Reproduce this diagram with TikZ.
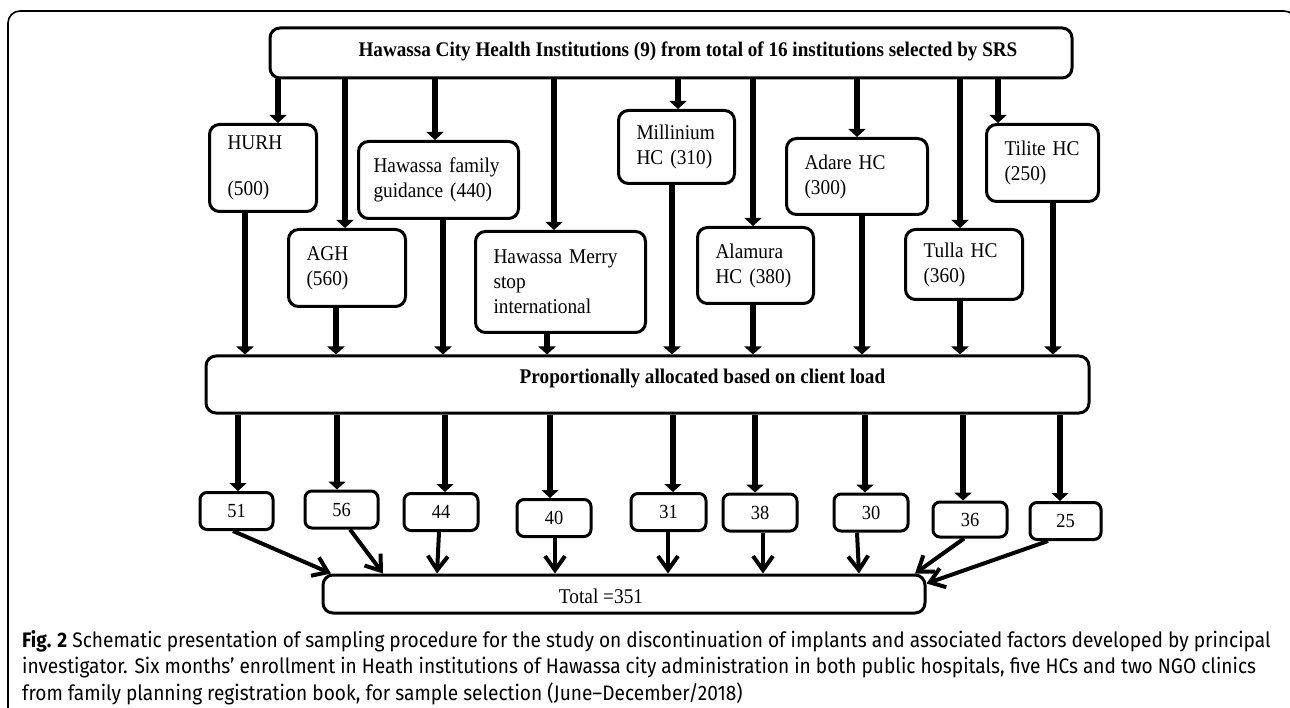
\documentclass[tikz,border=0pt]{standalone}
\usepackage{fontspec}
\setmainfont{Liberation Serif}[FakeStretch=0.92]
\newfontfamily\capfont{Fira Sans}[FakeStretch=0.91]
\usetikzlibrary{arrows.meta}
\tikzset{
  inst/.style = {draw, line width=3pt, rounded corners=10pt, anchor=north west, align=left, inner xsep=18pt, inner ysep=0pt, font=\fontsize{21}{25}\selectfont, execute at begin node={\hyphenpenalty=10000}},
  cnt/.style = {draw, line width=3pt, rounded corners=7pt, minimum height=37pt, inner sep=0pt, font=\fontsize{20}{24}\selectfont},
  bar/.style = {draw, line width=3pt, rounded corners=10pt, inner sep=0pt},
  feed/.style = {line width=6pt, -{Triangle[width=17pt, length=8pt]}},
  sum/.style = {line width=4pt, -{Straight Barb[width=20pt, length=14pt, line width=4pt]}}
}

\begin{document}
\begin{tikzpicture}[x=1pt, y=-1pt]
\clip (0,0) rectangle (1290,708);
\draw[line width=1.6pt, rounded corners=12pt] (8,720) -- (8,11) -- (1296,11) -- (1296,720);

\node[bar, minimum width=802pt, minimum height=50pt, label={[xshift=17pt, yshift=2pt, font=\fontsize{20.8}{24}\selectfont\bfseries]center:Hawassa City Health Institutions (9) from total of 16 institutions selected by SRS}] (top) at (671,53) {};

\node[inst, text width=71pt, minimum height=87pt] (hurh) at (208,123) {HURH\\[21pt](500)};
\node[inst, text width=81pt, minimum height=77pt] (agh) at (287,228) {AGH\\(560)};
\node[inst, inner xsep=15pt, text width=130pt, minimum height=77pt] (family) at (357,140) {Hawassa family\\guidance (440)};
\node[inst, text width=134pt, minimum height=101pt] (merry) at (474,230) {Hawassa Merry\\stop\\international};
\node[inst, text width=80pt, minimum height=73pt] (mill) at (617,109) {Millinium\\HC (310)};
\node[inst, text width=80pt, minimum height=76pt] (alam) at (696,226) {Alamura\\HC (380)};
\node[inst, text width=105pt, minimum height=76pt] (adare) at (785,137) {Adare HC\\(300)};
\node[inst, text width=81pt, minimum height=70pt] (tulla) at (904,228) {Tulla HC\\(360)};
\node[inst, text width=76pt, minimum height=77pt] (tilite) at (985,123) {Tilite HC\\(250)};

\node[bar, minimum width=883pt, minimum height=57pt, label={[xshift=55pt, yshift=6pt, font=\fontsize{20.9}{24}\selectfont\bfseries]center:Proportionally allocated based on client load}] (prop) at (647.5,384.5) {};

\node[cnt, minimum width=73pt] (n51) at (236.5,511) {51};
\node[cnt, minimum width=73pt] (n56) at (341.5,509.5) {56};
\node[cnt, minimum width=74pt] (n44) at (441,512) {44};
\node[cnt, minimum width=74pt] (n40) at (554,518) {40};
\node[cnt, minimum width=75pt] (n31) at (668.5,512) {31};
\node[cnt, minimum width=74pt] (n38) at (760,512.5) {38};
\node[cnt, minimum width=74pt] (n30) at (871,512.5) {30};
\node[cnt, minimum width=74pt, minimum height=35pt] (n36) at (970,519.5) {36};
\node[cnt, minimum width=71pt] (n25) at (1065.5,521) {25};

\node[bar, minimum width=602pt, minimum height=38pt, label={[xshift=-23pt, yshift=-2pt, font=\fontsize{21}{24}\selectfont]center:Total =351}] (total) at (624,594) {};

\foreach \x/\n in {278/hurh, 345/agh, 435/family, 554/merry, 678/mill, 753/alam, 857/adare, 960/tulla, 998/tilite}
  \draw[feed] (top.south -| \x,0) -- (\n.north -| \x,0);
\foreach \x/\n in {245/hurh, 336/agh, 443/family, 547/merry, 672/mill, 753/alam, 862/adare, 960/tulla, 1053/tilite}
  \draw[feed] (\n.south -| \x,0) -- (prop.north -| \x,0);
\foreach \x/\n in {238/n51, 337/n56, 445/n44, 550/n40, 673/n31, 755/n38, 865/n30, 963/n36, 1060/n25}
  \draw[feed] (prop.south -| \x,0) -- (\n.north -| \x,0);

\foreach \a/\b/\n in {233/331/n51, 350/383/n56, 439/437/n44, 555/555/n40, 668/668/n31, 763/763/n38, 857/859/n30, 964/915/n36}
  \draw[sum] (\n.south -| \a,0) -- (total.north -| \b,0);
\draw[sum] (n25.south -| 1048,0) -- ([yshift=-10pt]total.north east);

\node[anchor=base west, align=left, inner sep=0pt, font=\capfont\fontsize{21}{26.5}\selectfont] (cap) at (22,700) {\textbf{Fig. 2} Schematic presentation of sampling procedure for the study on discontinuation of implants and associated factors developed by principal\\investigator. Six months’ enrollment in Heath institutions of Hawassa city administration in both public hospitals, five HCs and two NGO clinics\\from family planning registration book, for sample selection (June–December/2018)};
\end{tikzpicture}
\end{document}
